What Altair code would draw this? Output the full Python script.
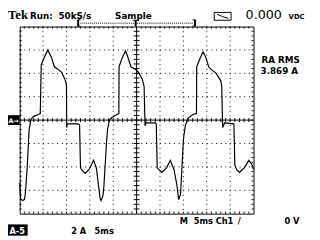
import altair as alt
import pandas as pd

# ---- waveform (time in ms, current in A) ----
time_ms = [0.0, 0.2, 0.6, 1.0, 1.2, 1.6, 1.8, 2.0, 2.4, 3.0, 4.0, 4.4, 4.6, 5.0, 6.0, 6.8, 7.4, 8.0,
           9.0, 9.8, 10.0, 10.05, 10.2, 12.4, 12.8, 13.0, 13.4, 14.0, 14.8, 15.8, 16.4, 16.8, 17.2,
           17.4, 17.8, 18.0, 18.6, 18.8, 19.2, 19.8, 20.8, 21.2, 21.25, 21.8, 22.6, 23.0, 23.8, 24.8,
           25.4, 26.2, 26.6, 26.8, 27.0, 29.0, 29.2, 29.4, 30.4, 31.4, 32.2, 33.0, 33.6, 34.0, 34.4,
           35.0, 35.4, 36.0, 37.0, 37.8, 37.85, 38.4, 39.2, 39.8, 40.4, 41.0, 42.0, 43.0, 43.2, 43.4,
           43.8, 45.8, 46.0, 46.4, 47.0, 48.0, 49.0, 49.6, 50.0]
current_a = [-5.36, -6.72, -6.88, -6.80, -6.32, -4.08, -2.48, -0.88, 0.08, 0.32, 0.48, 0.56, 4.72,
             5.12, 6.0, 5.36, 4.56, 4.40, 4.08, 3.36, 2.96, -0.64, -0.32, -0.32, -0.40, -4.08, -4.32,
             -4.56, -4.24, -3.44, -4.08, -5.44, -6.72, -6.88, -6.48, -5.68, -1.68, -0.72, 0.0, 0.24,
             0.48, 0.56, 4.56, 5.2, 5.92, 5.52, 4.56, 4.32, 4.08, 3.52, 2.88, -0.48, -0.24, -0.24,
             -0.32, -4.08, -4.48, -4.08, -3.44, -4.24, -5.52, -6.80, -6.32, -1.68, -0.48, 0.16, 0.48,
             0.56, 4.56, 5.12, 5.84, 5.36, 4.56, 4.32, 4.0, 3.36, 2.88, -0.64, -0.24, -0.32, -3.84,
             -4.24, -4.48, -4.08, -3.44, -3.76, -4.24]
assert len(time_ms) == len(current_a)

# ---- graticule: 10 x 5 ms, 8 x 2 A ----
t_min, t_max = 0, 50
a_min, a_max = -8, 8
grid_ms = [5, 10, 15, 20, 30, 35, 40, 45]
grid_a = [-6, -4, -2, 2, 4, 6]
minor_ms = list(range(1, 50))
minor_a = [round(-8 + 0.4 * i, 1) for i in range(1, 40)]

W, H = 240, 192
PX_T = (t_max - t_min) / W
PX_A = (a_max - a_min) / H

X = alt.Scale(domain=[t_min, t_max], nice=False, zero=False)
Y = alt.Scale(domain=[a_min, a_max], nice=False, zero=False)

wave = pd.DataFrame({"t": time_ms, "a": current_a, "i": range(len(time_ms))})

dotted, solid, thick = [], [], []
for g in grid_ms:
    dotted.append(dict(x=g, x2=g, y=a_max, y2=a_min))
for g in grid_a:
    dotted.append(dict(x=t_min, x2=t_max, y=g, y2=g))
# centre lines
solid.append(dict(x=25, x2=25, y=a_min, y2=a_max))
solid.append(dict(x=t_min, x2=t_max, y=0, y2=0))
for m in minor_ms:
    solid.append(dict(x=m, x2=m, y=a_min, y2=a_min + 2 * PX_A))
    solid.append(dict(x=m, x2=m, y=a_max, y2=a_max - 2 * PX_A))
    solid.append(dict(x=m, x2=m, y=-2 * PX_A, y2=2 * PX_A))
for m in minor_a:
    solid.append(dict(x=t_min, x2=t_min + 2 * PX_T, y=m, y2=m))
    solid.append(dict(x=t_max, x2=t_max - 2 * PX_T, y=m, y2=m))
    solid.append(dict(x=25 - 3 * PX_T, x2=25 + 3 * PX_T, y=m, y2=m))

# record bracket above the screen
br_l, br_r, br_T = 12.5, 37.5, 24.8
br_top, br_bot, br_mid = 8.58, 8.0, 8.29
thick.append(dict(x=br_l, x2=br_l, y=br_top, y2=br_bot))
thick.append(dict(x=br_r, x2=br_r, y=br_top, y2=br_bot))
solid.append(dict(x=br_l, x2=br_l + 0.5, y=br_top, y2=br_top))
solid.append(dict(x=br_l, x2=br_l + 0.5, y=br_bot + 0.05, y2=br_bot + 0.05))
solid.append(dict(x=br_r - 0.5, x2=br_r, y=br_top, y2=br_top))
solid.append(dict(x=br_r - 0.5, x2=br_r, y=br_bot + 0.05, y2=br_bot + 0.05))
solid.append(dict(x=br_T - 0.6, x2=br_T + 0.6, y=br_top - 0.04, y2=br_top - 0.04))
thick.append(dict(x=br_T, x2=br_T, y=br_top - 0.04, y2=br_bot))
bracket_dots = [dict(x=br_l + 0.5, x2=br_r - 0.5, y=br_mid, y2=br_mid)]
# little icon line (drawn above the icon box)
icon_line = [dict(x=42.2, x2=43.4, y=9.05, y2=8.85), dict(x=43.4, x2=44.6, y=8.85, y2=8.7)]


def rules(rows, **mk):
    return alt.Chart(pd.DataFrame(rows)).mark_rule(color="black", **mk).encode(
        x=alt.X("x:Q", scale=X, axis=None),
        x2="x2:Q",
        y=alt.Y("y:Q", scale=Y, axis=None),
        y2="y2:Q",
    )


def boxes(rows, **mk):
    return alt.Chart(pd.DataFrame(rows)).mark_rect(**mk).encode(
        x=alt.X("x:Q", scale=X, axis=None),
        x2="x2:Q",
        y=alt.Y("y:Q", scale=Y, axis=None),
        y2="y2:Q",
    )


def texts(rows, **mk):
    return alt.Chart(pd.DataFrame(rows)).mark_text(align="left", baseline="alphabetic", **mk).encode(
        x=alt.X("t:Q", scale=X, axis=None),
        y=alt.Y("a:Q", scale=Y, axis=None),
        text="label:N",
    )


SANS = "DejaVu Sans"
top_base = 8.62
layers = [
    rules(dotted, strokeWidth=1, strokeDash=[1, 3.8]),
    rules(bracket_dots, strokeWidth=1, strokeDash=[1, 1]),
    rules(solid, strokeWidth=1),
    rules(thick, strokeWidth=2),
    alt.Chart(wave).mark_line(color="black", strokeWidth=1.2).encode(
        x=alt.X("t:Q", scale=X, axis=None),
        y=alt.Y("a:Q", scale=Y, axis=None),
        order="i:Q",
    ),
    boxes([dict(x=41.6, x2=45.2, y=9.21, y2=8.54)], fill="white", stroke="black", strokeWidth=1),
    rules(icon_line, strokeWidth=1),
    boxes([dict(x=-2.5, x2=0.0, y=0.42, y2=-0.42),
           dict(x=-2.5, x2=1.7, y=-8.92, y2=-9.88)], fill="black"),
    texts([dict(t=-2.5, a=top_base, label="Tek")], font="Liberation Serif", fontSize=13,
          fontWeight="bold", color="black"),
    texts([dict(t=2.2, a=top_base, label="Run:"),
           dict(t=8.3, a=top_base, label="50kS/s"),
           dict(t=20.4, a=top_base, label="Sample")], font=SANS, fontSize=9, fontWeight="bold",
          color="black"),
    texts([dict(t=48.3, a=top_base, label="0.000")], font=SANS, fontSize=13, color="black"),
    texts([dict(t=57.5, a=top_base, label="VDC")], font=SANS, fontSize=7, fontWeight="bold",
          color="black"),
    texts([dict(t=51.7, a=4.9, label="RA RMS"),
           dict(t=51.5, a=3.95, label="3.869 A")], font=SANS, fontSize=9, fontWeight="bold",
          color="black"),
    texts([dict(t=34.2, a=-8.85, label="M"),
           dict(t=37.2, a=-8.85, label="5ms"),
           dict(t=41.9, a=-8.85, label="Ch1"),
           dict(t=46.6, a=-8.85, label="/"),
           dict(t=56.6, a=-8.85, label="0 V"),
           dict(t=11.0, a=-9.75, label="2 A"),
           dict(t=16.0, a=-9.75, label="5ms")], font=SANS, fontSize=8.5, fontWeight="bold",
          color="black"),
    texts([dict(t=-2.2, a=-9.75, label="A-5")], font=SANS, fontSize=8.5, fontWeight="bold",
          color="white"),
    texts([dict(t=-2.4, a=-0.27, label="A→")], font=SANS, fontSize=6.5, fontWeight="bold",
          color="white"),
]

chart = alt.layer(*layers).properties(
    width=W,
    height=H,
    autosize=alt.AutoSizeParams(type="none"),
    padding={"left": 12, "top": 16, "right": 60, "bottom": 24},
    background="white",
).configure_view(stroke="black", strokeWidth=1)

chart.save("out.html", embed_options={"renderer": "svg", "actions": False})
